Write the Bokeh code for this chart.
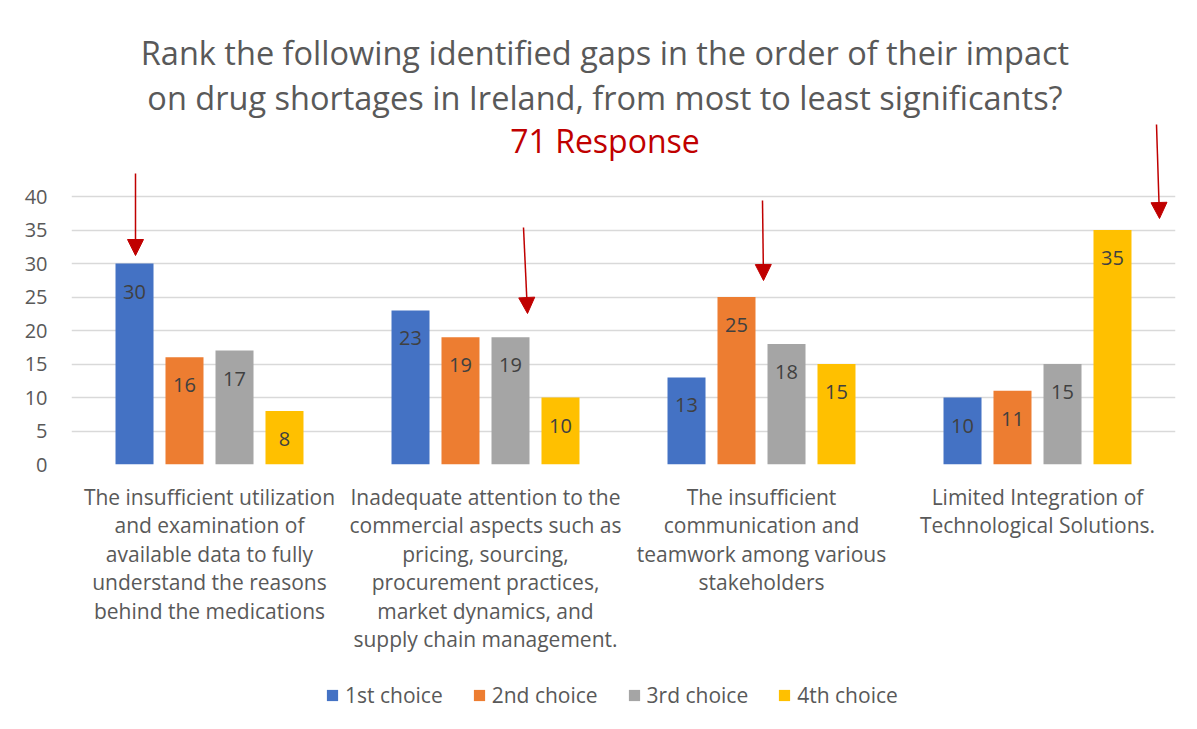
from bokeh.plotting import figure
from bokeh.layouts import column
from bokeh.models import (ColumnDataSource, FactorRange, Range1d, FixedTicker, Label,
                          Arrow, NormalHead, Legend, LegendItem)
from bokeh.transform import dodge
from bokeh.core.properties import value
from bokeh.embed import file_html
from bokeh.resources import INLINE

categories = [
    "The insufficient utilization\nand examination of\navailable data to fully\nunderstand the reasons\nbehind the medications",
    "Inadequate attention to the\ncommercial aspects such as\npricing, sourcing,\nprocurement practices,\nmarket dynamics, and\nsupply chain management.",
    "The insufficient\ncommunication and\nteamwork among various\nstakeholders",
    "Limited Integration of\nTechnological Solutions.",
]
series_names = ["1st choice", "2nd choice", "3rd choice", "4th choice"]
first_choice = [30, 23, 13, 10]
second_choice = [16, 19, 25, 11]
third_choice = [17, 19, 18, 15]
fourth_choice = [8, 10, 15, 35]
y_ticks = [0, 5, 10, 15, 20, 25, 30, 35, 40]
title_lines = ["Rank the following identified gaps in the order of their impact",
               "on drug shortages in Ireland, from most to least significants?"]
subtitle = "71 Response"

colors = ["#4472C4", "#ED7D31", "#A5A5A5", "#FFC000"]
FONT = "Open Sans"
GRAY = "#595959"

src = ColumnDataSource(dict(
    cat=categories,
    s1=first_choice, s2=second_choice, s3=third_choice, s4=fourth_choice,
    t1=[str(v) for v in first_choice], t2=[str(v) for v in second_choice],
    t3=[str(v) for v in third_choice], t4=[str(v) for v in fourth_choice],
))

px_per_unit = 6.7
FRAME_LEFT, FRAME_RIGHT, FRAME_BOTTOM = 71, 1175, 464
W, H_MAIN, H_LEG = 1190, 666, 56
p = figure(width=W, height=H_MAIN, output_backend="svg", toolbar_location=None,
           x_range=FactorRange(*categories, range_padding=0, factor_padding=0),
           y_range=Range1d(0, FRAME_BOTTOM / px_per_unit),
           min_border_left=FRAME_LEFT, min_border_right=W - FRAME_RIGHT,
           min_border_top=0, min_border_bottom=H_MAIN - FRAME_BOTTOM)
p.outline_line_color = None
p.background_fill_color = "white"
p.border_fill_color = "white"

offsets = [-0.2717, -0.0906, 0.0906, 0.2717]
keys = ["s1", "s2", "s3", "s4"]
tkeys = ["t1", "t2", "t3", "t4"]
for off, k, tk, c in zip(offsets, keys, tkeys, colors):
    p.vbar(x=dodge("cat", off, range=p.x_range), top=k, width=0.1377, source=src,
           fill_color=c, line_color=None)
    p.text(x=dodge("cat", off, range=p.x_range), y=k, text=tk, source=src,
           text_font=value(FONT), text_font_size="20px", text_color="#404040",
           text_align="center", text_baseline="middle", y_offset=28)

# axes
p.yaxis.ticker = FixedTicker(ticks=y_ticks)
p.yaxis.axis_line_color = None
p.yaxis.major_tick_line_color = None
p.yaxis.minor_tick_line_color = None
p.yaxis.major_label_text_font = FONT
p.yaxis.major_label_text_font_size = "20px"
p.yaxis.major_label_text_color = GRAY
p.yaxis.major_label_standoff = 18

p.xaxis.axis_line_color = None
p.xaxis.major_tick_line_color = None
p.xaxis.major_label_text_font = FONT
p.xaxis.major_label_text_font_size = "21px"
p.xaxis.major_label_text_color = GRAY
p.xaxis.major_label_text_line_height = 1.02
p.xaxis.major_label_standoff = 12

p.xgrid.grid_line_color = None
p.ygrid.grid_line_color = "#D9D9D9"
p.ygrid.grid_line_width = 1.5

# titles
def y_of(page_y):
    return (FRAME_BOTTOM - page_y) / px_per_unit

def x_of(page_x):
    return (page_x - FRAME_LEFT) / ((FRAME_RIGHT - FRAME_LEFT) / 4)

tx = x_of(604.5)
for line, py in zip(title_lines, [52, 97]):
    p.add_layout(Label(x=tx, y=y_of(py), text=line, text_font=FONT, text_font_size="32.5px",
                       text_color=GRAY, text_align="center", text_baseline="middle"))
p.add_layout(Label(x=tx, y=y_of(140), text=subtitle, text_font=FONT, text_font_size="32px",
                   text_color="#C00000", text_align="center", text_baseline="middle"))

# red arrows
arrows = [((135, 173), (135, 255)), ((523, 227), (527, 313)),
          ((762, 200), (763, 280)), ((1156, 124), (1159, 218))]
for (x0, y0), (x1, y1) in arrows:
    p.add_layout(Arrow(x_start=x_of(x0), y_start=y_of(y0),
                       x_end=x_of(x1), y_end=y_of(y1),
                       line_color="#C00000", line_width=1.5,
                       end=NormalHead(size=16, fill_color="#C00000", line_color="#C00000")))

# legend strip below the chart
p2 = figure(width=W, height=H_LEG, output_backend="svg", toolbar_location=None,
            x_range=Range1d(0, 1), y_range=Range1d(0, 1),
            min_border_left=0, min_border_right=0, min_border_top=0, min_border_bottom=0,
            x_axis_type=None, y_axis_type=None)
p2.outline_line_color = None
p2.xgrid.visible = False
p2.ygrid.visible = False
p2.border_fill_color = "white"
# off-screen swatch source so the legend has a glyph to draw
swatch = ColumnDataSource(dict(x=[-10], top=[-10]))
items = []
for c, name in zip(colors, series_names):
    r = p2.vbar(x="x", top="top", width=0.1, source=swatch, fill_color=c, line_color=None)
    items.append(LegendItem(label=name, renderers=[r]))
legend = Legend(items=items, orientation="horizontal", location=(254, 13),
                glyph_width=14, glyph_height=14, label_standoff=6, spacing=29,
                padding=0, margin=0, border_line_color=None, background_fill_alpha=0,
                label_text_font=FONT, label_text_font_size="21px", label_text_color=GRAY)
p2.add_layout(legend, "center")

layout = column(p, p2, spacing=0)
open("out.html", "w").write(file_html(layout, INLINE))
